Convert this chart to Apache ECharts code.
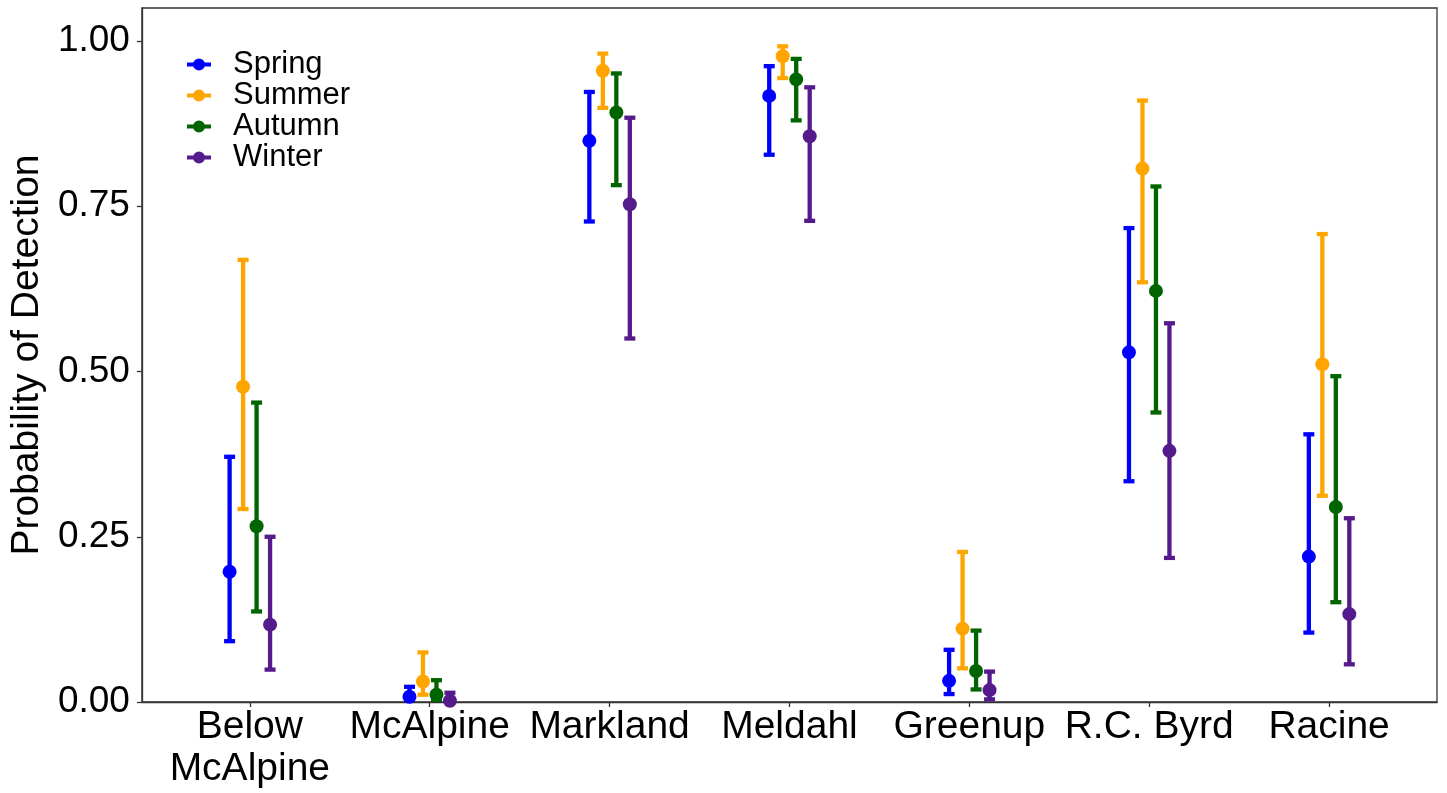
<!DOCTYPE html>
<html>
<head>
<meta charset="utf-8">
<script src="https://cdn.jsdelivr.net/npm/echarts@6/dist/echarts.min.js"></script>
<style>html,body{margin:0;padding:0;background:#fff}#c{width:1447px;height:793px}</style>
</head>
<body>
<div id="c"></div>
<script>
const categories = ['Below\nMcAlpine','McAlpine','Markland','Meldahl','Greenup','R.C. Byrd','Racine'];
const seasons = ['Spring','Summer','Autumn','Winter'];
const yTicks = [0, 0.25, 0.5, 0.75, 1.0];

const springEst  = [0.197, 0.008, 0.849, 0.917, 0.032, 0.529, 0.220];
const springLow  = [0.092, 0.001, 0.727, 0.828, 0.012, 0.334, 0.105];
const springHigh = [0.371, 0.023, 0.923, 0.962, 0.079, 0.717, 0.405];

const summerEst  = [0.477, 0.031, 0.955, 0.977, 0.111, 0.807, 0.511];
const summerLow  = [0.292, 0.011, 0.899, 0.944, 0.051, 0.635, 0.312];
const summerHigh = [0.669, 0.075, 0.981, 0.992, 0.227, 0.910, 0.708];

const autumnEst  = [0.266, 0.011, 0.892, 0.942, 0.047, 0.622, 0.295];
const autumnLow  = [0.137, 0.002, 0.782, 0.880, 0.019, 0.438, 0.151];
const autumnHigh = [0.453, 0.033, 0.951, 0.973, 0.108, 0.780, 0.493];

const winterEst  = [0.117, 0.002, 0.753, 0.856, 0.018, 0.380, 0.133];
const winterLow  = [0.049, 0.000, 0.550, 0.728, 0.004, 0.218, 0.057];
const winterHigh = [0.250, 0.014, 0.884, 0.930, 0.046, 0.573, 0.278];

const colors = ['#0000FF', '#FFA500', '#006400', '#551A8B'];
const est = [springEst, summerEst, autumnEst, winterEst];
const low = [springLow, summerLow, autumnLow, winterLow];
const high = [springHigh, summerHigh, autumnHigh, winterHigh];

const dodge = 0.3;
const offsets = seasons.map((s, i) => -dodge / 2 + dodge / 8 + i * dodge / 4);
const FONT = '"Liberation Sans", Arial, sans-serif';
const legendIcon = 'path://M0,4 L7,4 L7,8 L0,8 Z M17,4 L24,4 L24,8 L17,8 Z M6,6 A6,6 0 1,1 18,6 A6,6 0 1,1 6,6 Z';

const series = [];
seasons.forEach((s, i) => {
  series.push({
    name: s,
    type: 'custom',
    clip: true,
    z: 2,
    data: categories.map((c, k) => [k + offsets[i], low[i][k], high[i][k]]),
    renderItem: function (params, api) {
      const x = api.value(0);
      const p1 = api.coord([x, api.value(1)]);
      const p2 = api.coord([x, api.value(2)]);
      const hw = 5.5;
      const style = { stroke: colors[i], lineWidth: 4.3, fill: null };
      return {
        type: 'group',
        children: [
          { type: 'line', shape: { x1: p1[0], y1: p1[1], x2: p2[0], y2: p2[1] }, style: style },
          { type: 'line', shape: { x1: p1[0] - hw, y1: p1[1], x2: p1[0] + hw, y2: p1[1] }, style: style },
          { type: 'line', shape: { x1: p2[0] - hw, y1: p2[1], x2: p2[0] + hw, y2: p2[1] }, style: style }
        ]
      };
    },
    itemStyle: { color: colors[i] },
    silent: true
  });
});
seasons.forEach((s, i) => {
  series.push({
    name: s,
    type: 'scatter',
    clip: true,
    z: 3,
    symbol: 'circle',
    symbolSize: 14,
    itemStyle: { color: colors[i], opacity: 1 },
    data: categories.map((c, k) => [k + offsets[i], est[i][k]]),
    silent: true
  });
});

const chart = echarts.init(document.getElementById('c'), null, { renderer: 'canvas' });
chart.setOption({
  animation: false,
  backgroundColor: '#fff',
  textStyle: { fontFamily: FONT },
  grid: {
    left: 140, right: 10, top: 8, bottom: 91,
    show: true, borderColor: '#333', borderWidth: 1.3, backgroundColor: '#fff',
    containLabel: false
  },
  legend: {
    data: seasons.map((s, i) => ({ name: s, icon: legendIcon, itemStyle: { color: colors[i] } })),
    orient: 'vertical',
    left: 182, top: 44,
    itemWidth: 24, itemHeight: 12,
    itemGap: 0,
    textStyle: { fontSize: 31, color: '#000', fontFamily: FONT, lineHeight: 31, padding: [0, 0, 0, 17] }
  },
  xAxis: {
    type: 'value',
    min: -0.6, max: 6.6,
    splitLine: { show: false },
    axisLine: { show: true, onZero: false, lineStyle: { color: '#333', width: 1.3 } },
    axisTick: { show: true, length: 5, customValues: categories.map((c, k) => k), lineStyle: { color: '#333', width: 1.3 } },
    axisLabel: {
      customValues: categories.map((c, k) => k),
      formatter: v => categories[Math.round(v)] || '',
      fontSize: 39, color: '#000', fontFamily: FONT, lineHeight: 42, margin: 4
    }
  },
  yAxis: {
    type: 'value',
    min: 0, max: 1.05,
    splitLine: { show: false },
    name: 'Probability of Detection',
    nameLocation: 'middle',
    nameGap: 88,
    nameTextStyle: { fontSize: 39, color: '#000', fontFamily: FONT },
    axisLine: { show: true, onZero: false, lineStyle: { color: '#333', width: 1.3 } },
    axisTick: { show: true, length: 5, customValues: yTicks, lineStyle: { color: '#333', width: 1.3 } },
    axisLabel: {
      customValues: yTicks,
      formatter: v => v.toFixed(2),
      fontSize: 37, color: '#000', fontFamily: FONT, margin: 12
    }
  },
  series: series
});
</script>
</body>
</html>
